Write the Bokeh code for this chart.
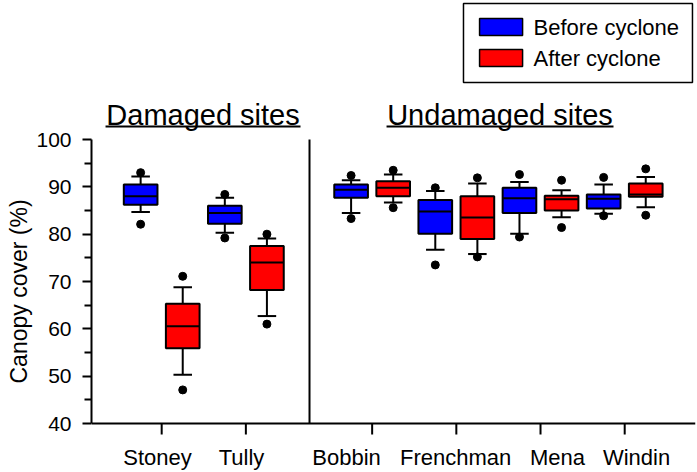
from bokeh.plotting import figure
from bokeh.models import ColumnDataSource, FixedTicker, Title
from bokeh.core.properties import value
from bokeh.embed import file_html
from bokeh.resources import INLINE

# ---------------- data ----------------
sites = ["Stoney", "Tully", "Bobbin", "Frenchman", "Mena", "Windin"]
y_ticks = [40, 50, 60, 70, 80, 90, 100]
y_minor = [45, 55, 65, 75, 85, 95]

before_low_out = [82.1, 79.2, 83.3, 73.5, 79.4, 83.9]
before_low_wh = [84.7, 80.3, 84.5, 76.7, 80.1, 84.3]
before_q1 = [86.2, 82.2, 87.7, 80.1, 84.5, 85.4]
before_med = [88.0, 84.5, 89.4, 84.8, 87.6, 87.5]
before_q3 = [90.5, 86.0, 90.5, 87.2, 89.8, 88.4]
before_up_wh = [92.2, 87.7, 91.4, 89.1, 91.0, 90.5]
before_up_out = [93.0, 88.4, 92.4, 89.8, 92.6, 92.0]

after_low_out = [47.1, 61.0, 85.6, 75.2, 81.4, 84.0]
after_low_wh = [50.3, 62.7, 86.7, 75.8, 83.6, 85.7]
after_q1 = [55.9, 68.2, 88.0, 79.0, 85.0, 87.9]
after_med = [60.55, 74.0, 89.8, 83.5, 87.4, 88.4]
after_q3 = [65.3, 77.5, 91.2, 88.0, 88.1, 90.7]
after_up_wh = [68.8, 79.1, 92.6, 90.7, 89.3, 92.1]
after_up_out = [71.1, 80.0, 93.5, 91.9, 91.4, 93.8]

# ---------------- layout ----------------
positions = [1.0, 2.0, 3.5, 4.5, 5.5, 6.5]
label_x = [0.950, 1.948, 3.196, 4.491, 5.702, 6.641]
label_y = 32.75
divider_x = 2.756
offset = 0.25
box_w = 0.40
cap_w = 0.22
Y0 = 40
X0, X1 = 0.1663, 7.341
px_per_unit = 4.7333
FONT = "Liberation Sans"

p = figure(width=697, height=472, x_range=(X0, X1), y_range=(29.65, 129.37),
           output_backend="svg", toolbar_location=None,
           min_border_left=91, min_border_right=2, min_border_top=0, min_border_bottom=0)
p.outline_line_color = None
p.xgrid.visible = False
p.ygrid.visible = False
p.xaxis.visible = False
p.background_fill_color = "white"

# y axis
p.yaxis.ticker = FixedTicker(ticks=y_ticks, minor_ticks=y_minor)
p.yaxis.bounds = (40, 100)
p.yaxis.axis_line_width = 2
p.yaxis.major_tick_line_width = 2
p.yaxis.minor_tick_line_width = 2
p.yaxis.major_tick_in = 0
p.yaxis.major_tick_out = 9
p.yaxis.minor_tick_in = 0
p.yaxis.minor_tick_out = 7
p.yaxis.major_label_text_font = FONT
p.yaxis.major_label_text_font_size = "21px"
p.yaxis.major_label_text_color = "black"
p.yaxis.major_label_standoff = 11

# y axis title, placed along the 40-100 span
p.add_layout(Title(text="Canopy cover (%)", align="left", offset=89, standoff=4,
                   text_font=FONT, text_font_size="23px", text_font_style="normal",
                   text_color="black"), "left")

# x axis drawn by hand (line, ticks, offset labels)
tick_len = 11 / px_per_unit
p.segment(x0=[X0], y0=[Y0], x1=[X1], y1=[Y0], line_color="black", line_width=2)
p.segment(x0=positions, y0=[Y0] * len(positions), x1=positions,
          y1=[Y0 - tick_len] * len(positions), line_color="black", line_width=2)
p.text(x=label_x, y=[label_y] * len(sites), text=sites, text_font=value(FONT),
       text_font_size="22px", text_align="center", text_baseline="middle", text_color="black")


def draw_group(xs, lo_out, lo_wh, q1, med, q3, up_wh, up_out, color):
    src = ColumnDataSource(dict(
        x=xs, lo_out=lo_out, lo_wh=lo_wh, q1=q1, med=med, q3=q3,
        up_wh=up_wh, up_out=up_out,
        xl=[x - box_w / 2 for x in xs], xr=[x + box_w / 2 for x in xs],
        cl=[x - cap_w / 2 for x in xs], cr=[x + cap_w / 2 for x in xs],
    ))
    p.segment(x0="x", y0="q3", x1="x", y1="up_wh", source=src, line_color="black", line_width=2)
    p.segment(x0="x", y0="q1", x1="x", y1="lo_wh", source=src, line_color="black", line_width=2)
    p.segment(x0="cl", y0="up_wh", x1="cr", y1="up_wh", source=src, line_color="black", line_width=2)
    p.segment(x0="cl", y0="lo_wh", x1="cr", y1="lo_wh", source=src, line_color="black", line_width=2)
    p.vbar(x="x", width=box_w, top="q3", bottom="q1", source=src,
           fill_color=color, line_color="black", line_width=2)
    p.segment(x0="xl", y0="med", x1="xr", y1="med", source=src, line_color="black", line_width=2)
    p.scatter(x="x", y="up_out", source=src, size=8, color="black")
    p.scatter(x="x", y="lo_out", source=src, size=8, color="black")


draw_group([x - offset for x in positions], before_low_out, before_low_wh, before_q1,
           before_med, before_q3, before_up_wh, before_up_out, "#0000FF")
draw_group([x + offset for x in positions], after_low_out, after_low_wh, after_q1,
           after_med, after_q3, after_up_wh, after_up_out, "#FF0000")

# divider between damaged and undamaged sites
p.segment(x0=[divider_x], y0=[40], x1=[divider_x], y1=[100], line_color="black", line_width=2)

# group titles with underline
group_titles = ["Damaged sites", "Undamaged sites"]
title_x = [1.491, 5.019]
title_y = [105.2, 105.2]
p.text(x=title_x, y=title_y, text=group_titles, text_font=value(FONT),
       text_font_size="29px", text_align="center", text_baseline="middle", text_color="black")
p.segment(x0=[0.333, 3.671], y0=[102.75, 102.75], x1=[2.649, 6.367], y1=[102.75, 102.75],
          line_color="black", line_width=2)

# legend (drawn manually)
p.quad(left=[4.585], right=[7.305], bottom=[112.04], top=[128.73],
       fill_color="white", line_color="black", line_width=1.5)
p.quad(left=[4.776, 4.776], right=[5.287, 5.287], bottom=[121.97, 115.42], top=[125.56, 119.01],
       fill_color=["#0000FF", "#FF0000"], line_color="black", line_width=1.5)
p.text(x=[5.417, 5.417], y=[123.77, 117.22], text=["Before cyclone", "After cyclone"],
       text_font=value(FONT), text_font_size="22px", text_align="left",
       text_baseline="middle", text_color="black")

open("out.html", "w").write(file_html(p, INLINE))
